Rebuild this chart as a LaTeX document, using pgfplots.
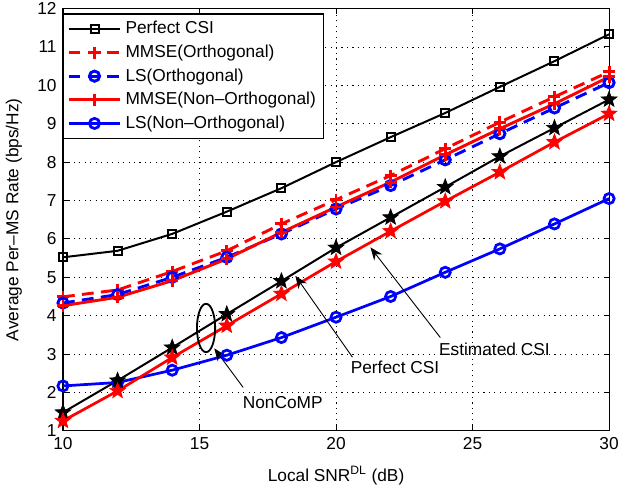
\documentclass[border=0pt]{standalone}
\usepackage{pgfplots}
\pgfplotsset{compat=1.18}
\usepackage{fontspec}
\setmainfont{Liberation Sans}
\usetikzlibrary{arrows.meta,calc}

% filled five-pointed star
\pgfdeclareplotmark{fstar}{%
  \pgfpathmoveto{\pgfpointpolar{90}{\pgfplotmarksize}}%
  \pgfpathlineto{\pgfpointpolar{126}{0.42\pgfplotmarksize}}%
  \pgfpathlineto{\pgfpointpolar{162}{\pgfplotmarksize}}%
  \pgfpathlineto{\pgfpointpolar{198}{0.42\pgfplotmarksize}}%
  \pgfpathlineto{\pgfpointpolar{234}{\pgfplotmarksize}}%
  \pgfpathlineto{\pgfpointpolar{270}{0.42\pgfplotmarksize}}%
  \pgfpathlineto{\pgfpointpolar{306}{\pgfplotmarksize}}%
  \pgfpathlineto{\pgfpointpolar{342}{0.42\pgfplotmarksize}}%
  \pgfpathlineto{\pgfpointpolar{18}{\pgfplotmarksize}}%
  \pgfpathlineto{\pgfpointpolar{54}{0.42\pgfplotmarksize}}%
  \pgfpathclose\pgfusepathqfillstroke}

\newcommand{\fs}{\fontsize{9.5}{11.5}\selectfont}

\begin{document}
\begin{tikzpicture}
\begin{axis}[
  width=300pt, height=232pt, scale only axis,
  xmin=10, xmax=30, ymin=1, ymax=12,
  xtick={10,15,20,25,30}, ytick={1,2,...,12},
  grid=major,
  major grid style={black, line width=0.45pt, dash pattern=on 0.6pt off 2.4pt},
  axis line style={line width=0.6pt},
  tick style={black, line width=0.5pt},
  major tick length=3pt,
  /pgf/number format/assume math mode=true,
  tick label style={font=\fs},
  label style={font=\fs},
  xlabel={Local SNR\textsuperscript{DL} (dB)},
  ylabel={Average Per--MS Rate (bps/Hz)},
  xlabel style={yshift=-2.5pt},
  ylabel style={yshift=1.5pt},
  legend style={at={(0,1)}, anchor=north west, yshift=-2.7pt,
    draw=black, line width=0.6pt, font=\fs,
    row sep=0.6pt, inner sep=2pt},
  legend cell align=left,
  legend image code/.code={\draw[mark repeat=2,mark phase=2] plot coordinates {(0cm,0cm) (0.5cm,0cm) (1cm,0cm)};},
]
\addplot[black, line width=1.1pt, mark=square, mark size=2.2pt, mark options={solid, line width=1.1pt}] coordinates {
  (10,5.52) (12,5.69) (14,6.13) (16,6.71) (18,7.32) (20,8.0)
  (22,8.65) (24,9.28) (26,9.96) (28,10.63) (30,11.33)};
\addlegendentry{Perfect CSI}

\addplot[red, line width=1.6pt, dash pattern=on 6.5pt off 4pt, mark=+, mark size=3.3pt, mark options={solid}] coordinates {
  (10,4.49) (12,4.67) (14,5.15) (16,5.69) (18,6.39) (20,7.02)
  (22,7.65) (24,8.35) (26,9.04) (28,9.70) (30,10.35)};
\addlegendentry{MMSE(Orthogonal)}

\addplot[blue, line width=1.6pt, dash pattern=on 6.5pt off 4pt, mark=o, mark size=2.8pt, mark options={solid}] coordinates {
  (10,4.33) (12,4.55) (14,5.0) (16,5.52) (18,6.13) (20,6.78)
  (22,7.39) (24,8.06) (26,8.74) (28,9.41) (30,10.07)};
\addlegendentry{LS(Orthogonal)}

\addplot[red, line width=1.6pt, mark=+, mark size=3.3pt] coordinates {
  (10,4.26) (12,4.48) (14,4.91) (16,5.48) (18,6.17) (20,6.83)
  (22,7.48) (24,8.19) (26,8.87) (28,9.52) (30,10.22)};
\addlegendentry{MMSE(Non--Orthogonal)}

\addplot[blue, line width=1.5pt, mark=o, mark size=2.8pt] coordinates {
  (10,2.17) (12,2.26) (14,2.58) (16,2.97) (18,3.43) (20,3.96)
  (22,4.5) (24,5.13) (26,5.74) (28,6.39) (30,7.05)};
\addlegendentry{LS(Non--Orthogonal)}

% NonCoMP, perfect CSI
\addplot[black, line width=1.1pt, mark=fstar, mark size=4.5pt, mark options={line width=0.4pt}, forget plot] coordinates {
  (10,1.48) (12,2.31) (14,3.17) (16,4.04) (18,4.9) (20,5.77)
  (22,6.56) (24,7.35) (26,8.15) (28,8.89) (30,9.63)};
% NonCoMP, estimated CSI
\addplot[red, line width=1.5pt, mark=fstar, mark size=4.5pt, mark options={line width=0.4pt}, forget plot] coordinates {
  (10,1.26) (12,2.04) (14,2.91) (16,3.74) (18,4.57) (20,5.41)
  (22,6.2) (24,6.98) (26,7.74) (28,8.52) (30,9.26)};

% annotations
\draw[line width=1pt] (axis cs:15.24,3.68) ellipse [x radius=5pt, y radius=13.3pt];
\draw[line width=0.5pt, -{Stealth[length=7pt, width=5.5pt]}] (axis cs:16.6,2.13) -- (axis cs:15.54,3.15);
\node[font=\fs] at (axis cs:18.05,1.73) {NonCoMP};
\draw[line width=0.5pt, -{Stealth[length=7pt, width=5.5pt]}] (axis cs:20.6,2.92) -- (axis cs:18.51,5.04);
\node[font=\fs] at (axis cs:22.16,2.65) {Perfect CSI};
\draw[line width=0.5pt, -{Stealth[length=7pt, width=5.5pt]}] (axis cs:23.82,3.43) -- (axis cs:21.26,5.78);
\node[font=\fs] at (axis cs:25.8,3.13) {Estimated CSI};
\end{axis}
% page margins as in the reference
\pgfresetboundingbox
\path[use as bounding box] ($(current axis.south west)+(-34.6pt,-30.2pt)$) rectangle ($(current axis.north east)+(12.6pt,4.7pt)$);
\end{tikzpicture}
\end{document}
